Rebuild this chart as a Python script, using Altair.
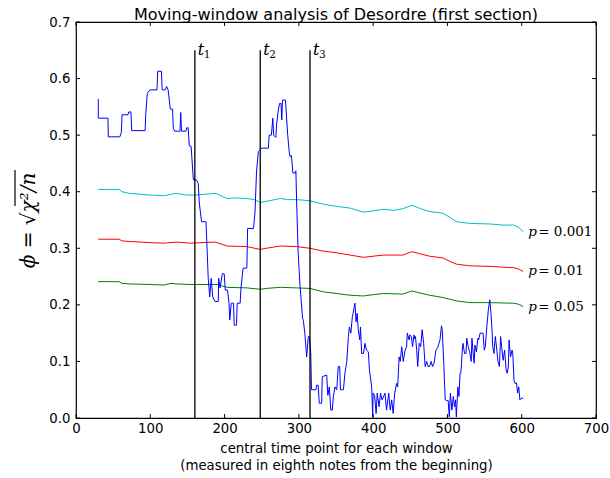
import altair as alt
import pandas as pd

# ---- data ----
blue_x = [30, 30, 43, 43.5, 59, 61, 62, 70, 71, 74, 75, 93, 94, 96, 99.5, 109, 110, 115, 116, 120,
          122, 124, 127, 130, 131, 133, 136, 138, 140, 141, 142, 148, 149, 151, 152.5, 155, 156, 158, 162, 164.5,
          166, 169, 175, 178, 180, 182, 184, 187, 191.5, 192, 194, 197, 199.5, 201, 204, 206, 207, 209, 212, 213,
          216, 217, 221, 222, 225, 230, 231, 239, 241, 243, 245.5, 250, 259, 260, 263, 265, 266, 269, 270, 272,
          274, 276, 277, 278, 282, 283.5, 285, 287, 288, 290, 292, 295, 296, 297, 299, 301.5, 305, 306, 308, 310.5,
          312.7, 314, 316, 317, 323, 324, 326, 327.5, 330.7, 331.5, 337.5, 339, 341, 343, 345, 346.5, 348.6, 351, 353, 355,
          356, 360, 362, 364.5, 366.7, 368, 370, 372, 373, 375.5, 377, 378.5, 380, 382, 383, 384.5, 387, 389, 391, 393.5,
          395, 398, 399.4, 400, 402, 404, 405.5, 408, 410, 412, 416, 418, 421, 423, 425, 427, 429, 431.6, 433, 435,
          436.5, 438.5, 440.5, 443, 445, 446, 448.5, 449.6, 451.5, 453, 455, 456, 457, 458.6, 460, 462, 464, 466, 468, 470,
          472, 474, 476, 478, 480, 482, 484.6, 487, 490, 492, 493, 495, 497, 499, 501, 502.5, 504, 506, 508, 509.5,
          511, 512, 514, 515.5, 517, 518, 519, 520, 521, 523, 525, 526, 528, 530, 532, 533, 535, 536, 537, 539,
          541, 542, 544, 548, 549.6, 551, 553, 555, 557, 558.6, 560, 561, 562.6, 564.5, 566.5, 568, 570, 571.6, 573, 575,
          577, 579, 580.5, 582, 583, 585, 587, 588, 589.6, 591, 593, 594.5, 596, 597.6, 599.5, 602]
blue_y = [0.564, 0.530, 0.530, 0.497, 0.497, 0.505, 0.536, 0.536, 0.541, 0.541, 0.508, 0.508, 0.540, 0.574, 0.580, 0.580, 0.613, 0.613, 0.580, 0.580,
          0.586, 0.580, 0.546, 0.546, 0.512, 0.507, 0.507, 0.507, 0.507, 0.540, 0.507, 0.507, 0.513, 0.513, 0.481, 0.480, 0.460, 0.421, 0.421, 0.415,
          0.380, 0.347, 0.347, 0.247, 0.214, 0.247, 0.214, 0.206, 0.206, 0.247, 0.230, 0.255, 0.255, 0.226, 0.226, 0.203, 0.173, 0.203, 0.203, 0.164,
          0.164, 0.203, 0.203, 0.229, 0.265, 0.265, 0.335, 0.335, 0.364, 0.435, 0.471, 0.477, 0.477, 0.500, 0.500, 0.530, 0.500, 0.496, 0.518, 0.541,
          0.556, 0.556, 0.527, 0.562, 0.562, 0.530, 0.500, 0.471, 0.462, 0.464, 0.433, 0.433, 0.437, 0.382, 0.294, 0.235, 0.176, 0.173, 0.150, 0.108,
          0.144, 0.144, 0.115, 0.050, 0.050, 0.058, 0.058, 0.026, 0.026, 0.073, 0.076, 0.040, 0.055, 0.014, 0.014, 0.038, 0.055, 0.050, 0.091, 0.091,
          0.050, 0.050, 0.079, 0.100, 0.144, 0.161, 0.150, 0.179, 0.185, 0.203, 0.170, 0.185, 0.156, 0.138, 0.161, 0.114, 0.114, 0.132, 0.120, 0.117,
          0.085, 0.055, 0.002, 0.044, 0.040, 0.008, 0.044, 0.020, 0.044, 0.032, 0.044, 0.014, 0.044, 0.014, 0.032, 0.008, 0.044, 0.061, 0.055, 0.108,
          0.100, 0.126, 0.100, 0.120, 0.126, 0.150, 0.138, 0.147, 0.144, 0.126, 0.147, 0.140, 0.144, 0.120, 0.091, 0.132, 0.126, 0.156, 0.132, 0.091,
          0.100, 0.091, 0.091, 0.100, 0.091, 0.097, 0.120, 0.125, 0.138, 0.163, 0.156, 0.100, 0.032, 0.031, 0.031, 0.002, 0.044, 0.014, 0.038, 0.020,
          0.032, 0.002, 0.055, 0.038, 0.079, 0.079, 0.097, 0.120, 0.132, 0.114, 0.114, 0.141, 0.126, 0.117, 0.100, 0.141, 0.108, 0.097, 0.129, 0.117,
          0.141, 0.138, 0.150, 0.150, 0.120, 0.126, 0.161, 0.190, 0.209, 0.185, 0.156, 0.126, 0.114, 0.144, 0.120, 0.100, 0.091, 0.144, 0.126, 0.102,
          0.120, 0.085, 0.079, 0.091, 0.138, 0.108, 0.120, 0.114, 0.067, 0.061, 0.062, 0.044, 0.055, 0.032, 0.035, 0.035]

cyan_x = [30, 58, 62, 72, 100, 118, 135, 149, 160, 187, 190, 203, 215, 230, 240, 248, 256, 275, 285, 297,
          315, 333, 351, 369, 387, 400, 414, 428, 440, 452, 464, 476, 494, 503, 512, 530, 557, 575, 589, 596, 602]
cyan_y = [0.404, 0.404, 0.400, 0.397, 0.394, 0.393, 0.397, 0.394, 0.394, 0.397, 0.396, 0.388, 0.389, 0.388, 0.386, 0.381, 0.383, 0.388, 0.386, 0.386,
          0.384, 0.378, 0.374, 0.371, 0.364, 0.366, 0.369, 0.367, 0.370, 0.376, 0.370, 0.365, 0.362, 0.355, 0.347, 0.344, 0.343, 0.341, 0.341, 0.337, 0.329]
red_x = [30, 58, 62, 72, 100, 118, 135, 153, 187, 190, 203, 230, 248, 256, 275, 297, 315, 333, 351, 369,
         387, 400, 414, 440, 452, 476, 494, 503, 512, 530, 557, 584, 589, 596, 602]
red_y = [0.316, 0.316, 0.313, 0.312, 0.310, 0.309, 0.311, 0.309, 0.311, 0.310, 0.304, 0.303, 0.298, 0.300, 0.304, 0.303, 0.300, 0.295, 0.292, 0.288,
         0.284, 0.286, 0.288, 0.288, 0.294, 0.286, 0.283, 0.277, 0.272, 0.269, 0.268, 0.266, 0.266, 0.263, 0.259]
green_x = [30, 58, 62, 72, 100, 118, 128, 135, 153, 187, 190, 203, 230, 248, 256, 275, 297, 315, 333, 351,
           369, 387, 400, 414, 440, 452, 476, 494, 503, 512, 530, 557, 584, 589, 596, 602]
green_y = [0.241, 0.241, 0.238, 0.237, 0.236, 0.235, 0.238, 0.237, 0.236, 0.236, 0.236, 0.231, 0.230, 0.2275, 0.229, 0.231, 0.230, 0.229, 0.223, 0.220,
           0.217, 0.2157, 0.218, 0.220, 0.219, 0.2245, 0.217, 0.213, 0.210, 0.207, 0.204, 0.204, 0.203, 0.203, 0.201, 0.197]

t_x = [160, 248, 315]
t_sub = ["1", "2", "3"]
t_top = 0.65

p_text = ["= 0.001", "= 0.01", "= 0.05"]
p_colors = ["#00bfbf", "#ff0000", "#008000"]

x_ticks = [0, 100, 200, 300, 400, 500, 600, 700]
y_ticks = [0.0, 0.1, 0.2, 0.3, 0.4, 0.5, 0.6, 0.7]

title_text = "Moving-window analysis of Desordre (first section)"
x_title = ["central time point for each window", "(measured in eighth notes from the beginning)"]
y_title = "ϕ = √χ²/n"

# ---- build ----
W, H = 520, 396
xs = alt.Scale(domain=[0, 700], nice=False, zero=False)
ys = alt.Scale(domain=[0, 0.7], nice=False, zero=False)

blue_df = pd.DataFrame({"x": blue_x, "y": blue_y, "i": range(len(blue_x))})
thr_rows = []
for name, xx, yy in [("c", cyan_x, cyan_y), ("r", red_x, red_y), ("g", green_x, green_y)]:
    for k, (a, b) in enumerate(zip(xx, yy)):
        thr_rows.append({"s": name, "x": a, "y": b, "i": k})
thr_df = pd.DataFrame(thr_rows)

ends = pd.DataFrame({
    "x": [cyan_x[-1], red_x[-1], green_x[-1]],
    "y": [cyan_y[-1], red_y[-1], green_y[-1]],
    "t": p_text,
})

tdf = pd.DataFrame({"x": t_x, "y": [0] * len(t_x), "y1": [t_top] * len(t_x), "sub": t_sub})
xt = pd.DataFrame({"x": x_ticks})
yt = pd.DataFrame({"y": y_ticks})

font = "DejaVu Sans"
serif = "DejaVu Serif"

x_axis = alt.Axis(values=x_ticks, ticks=False, domain=False, grid=False, labelFontSize=13.3,
                  labelFont=font, labelColor="black", labelPadding=3, labelFlush=False,
                  title=x_title, titleFont=font, titleFontSize=13.3, titleFontWeight="normal",
                  titleColor="black", titleY=23, titleBaseline="top", titleLineHeight=17)
y_axis = alt.Axis(values=y_ticks, format=".1f", ticks=False, domain=False, grid=False,
                  labelFontSize=13.3, labelFont=font, labelColor="black", labelPadding=6,
                  labelFlush=False, title=y_title, titleFont=serif, titleFontSize=20,
                  titleFontStyle="italic", titleFontWeight="normal", titleColor="black",
                  titleX=-48, titleY=H / 2, titleAngle=-90, titleAlign="center",
                  titleBaseline="middle")

X = alt.X("x:Q", scale=xs, axis=x_axis)
Y = alt.Y("y:Q", scale=ys, axis=y_axis)

thr = alt.Chart(thr_df).mark_line(strokeWidth=1, interpolate="linear").encode(
    x=X, y=Y,
    color=alt.Color("s:N", scale=alt.Scale(domain=["c", "r", "g"], range=p_colors), legend=None),
    order="i:Q",
)

blue = alt.Chart(blue_df).mark_line(strokeWidth=1, color="#0000ff").encode(
    x=X, y=Y, order="i:Q",
)

vlines = alt.Chart(tdf).mark_rule(color="black", strokeWidth=1.3).encode(
    x=X, y=Y, y2="y1:Q",
)
t_lab = alt.Chart(tdf).mark_text(text="t", font=serif, fontStyle="italic", fontSize=16,
                                 align="left", baseline="middle", dx=3, color="black").encode(
    x=X, y=alt.Y("y1:Q", scale=ys, axis=y_axis),
)
t_sub_lab = alt.Chart(tdf).mark_text(font=serif, fontSize=10.5, align="left", baseline="middle",
                                     dx=9, dy=5, color="black").encode(
    x=X, y=alt.Y("y1:Q", scale=ys, axis=y_axis), text="sub:N",
)

p_lab = alt.Chart(ends).mark_text(text="p", font=serif, fontStyle="italic", fontSize=13.5,
                                  align="left", baseline="middle", dx=5, color="black").encode(
    x=X, y=Y,
)
p_val = alt.Chart(ends).mark_text(font=serif, fontSize=13.5, align="left", baseline="middle",
                                  dx=15, color="black").encode(
    x=X, y=Y, text="t:N",
)

# vinculum of the square root in the rotated y-axis title
vinc = alt.Chart(pd.DataFrame({"k": [0]})).mark_rule(color="black", strokeWidth=1.2).encode(
    x=alt.value(-61), y=alt.value(148), y2=alt.value(184), detail="k:N")

tick_style = dict(color="black", strokeWidth=1)
xb = alt.Chart(xt).mark_rule(**tick_style).encode(x=X, y=alt.value(H), y2=alt.value(H - 4))
xtp = alt.Chart(xt).mark_rule(**tick_style).encode(x=X, y=alt.value(0), y2=alt.value(4))
yl = alt.Chart(yt).mark_rule(**tick_style).encode(y=Y, x=alt.value(0), x2=alt.value(4))
yr = alt.Chart(yt).mark_rule(**tick_style).encode(y=Y, x=alt.value(W - 4), x2=alt.value(W))

chart = alt.layer(thr, blue, vlines, t_lab, t_sub_lab, p_lab, p_val, vinc, xb, xtp, yl, yr).properties(
    width=W, height=H,
    title=alt.TitleParams(title_text, font=font, fontSize=16, fontWeight="normal",
                          color="black", anchor="middle", offset=4, dy=12),
    autosize=alt.AutoSizeParams(type="none"),
    padding={"left": 76, "top": 22, "right": 14, "bottom": 60},
    background="white",
).configure_view(stroke="black", strokeWidth=1.2)

chart.save("out.html", embed_options={"renderer": "svg", "actions": False})
